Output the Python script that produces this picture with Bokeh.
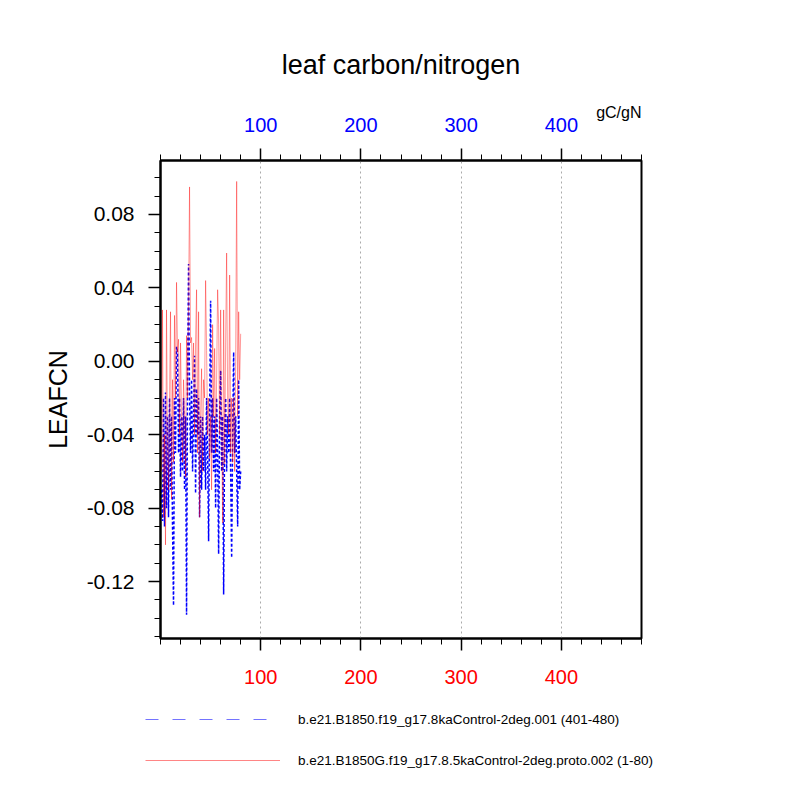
from bokeh.plotting import figure
from bokeh.layouts import column, row
from bokeh.models import (Range1d, FixedTicker, LinearAxis, Title, Legend, LegendItem,
                          PrintfTickFormatter, ColumnDataSource)
from bokeh.embed import file_html
from bokeh.resources import INLINE

title_text = "leaf carbon/nitrogen"
units_text = "gC/gN"
y_label = "LEAFCN"
label_blue = "b.e21.B1850.f19_g17.8kaControl-2deg.001 (401-480)"
label_red = "b.e21.B1850G.f19_g17.8.5kaControl-2deg.proto.002 (1-80)"

x_major = [100, 200, 300, 400]
x_minor = list(range(0, 481, 20))
y_major = [-0.12, -0.08, -0.04, 0.0, 0.04, 0.08]
y_minor = [round(-0.15 + 0.01 * i, 2) for i in range(27)]

years = list(range(1, 81))

red_vals = [
    -0.060, 0.028, -0.085, -0.040, -0.100, 0.028, -0.045, -0.070, -0.020, 0.027,
    -0.075, -0.010, -0.055, 0.025, -0.020, 0.043, 0.005, 0.012, -0.040, 0.010,
    -0.030, -0.055, -0.010, -0.030, -0.063, 0.014, -0.020, 0.030, 0.095, 0.010,
    0.013, -0.010, 0.010, -0.040, 0.010, 0.039, -0.050, 0.027, -0.085, -0.030,
    -0.004, -0.060, -0.010, -0.020, 0.044, 0.006, -0.040, -0.020, -0.053, -0.030,
    -0.070, 0.020, -0.030, 0.007, -0.050, -0.010, 0.039, 0.020, -0.040, 0.028,
    -0.030, -0.088, 0.028, -0.056, 0.010, 0.059, -0.020, -0.040, 0.047, -0.050,
    -0.020, -0.055, -0.020, -0.060, 0.000, 0.098, -0.030, 0.027, -0.010, 0.015,
]

blue_vals = [
    -0.070, -0.087, -0.020, -0.090, -0.017, -0.080, -0.030, -0.085, -0.020, -0.070,
    -0.030, -0.090, -0.133, -0.020, -0.050, 0.008, 0.005, -0.050, -0.020, -0.063,
    -0.030, -0.060, -0.020, -0.070, -0.030, -0.138, -0.010, 0.053, -0.020, -0.050,
    -0.010, -0.060, -0.030, 0.003, -0.072, -0.015, -0.040, -0.020, -0.085, -0.030,
    -0.070, -0.030, -0.060, -0.040, -0.070, -0.020, -0.050, -0.098, -0.030, 0.033,
    -0.050, -0.020, -0.060, -0.030, -0.080, -0.020, -0.050, -0.105, -0.030, -0.005,
    -0.060, -0.030, -0.127, -0.040, -0.020, -0.060, -0.030, -0.050, -0.020, -0.060,
    -0.107, -0.040, 0.005, -0.050, -0.030, -0.060, -0.090, -0.010, -0.070, -0.060,
]

FONT = "Liberation Sans"
W = 671
LEG_H = 84

p = figure(frame_width=481, frame_height=478,
           x_range=Range1d(0, 480), y_range=Range1d(-0.151, 0.1094),
           output_backend="svg", toolbar_location=None, title=None,
           min_border_left=160, min_border_top=160, min_border_bottom=62,
           min_border_right=30, background_fill_color="white",
           border_fill_color="white")

p.outline_line_color = "black"
p.outline_line_width = 2

# data lines
p.line(years, blue_vals, line_color="#0000ff", line_width=1.5, line_dash="3 2")
p.line(years, red_vals, line_color="#ff0000", line_alpha=0.4, line_width=1)

# axes
def style_x(ax, color, standoff):
    ax.ticker = FixedTicker(ticks=x_major, minor_ticks=x_minor)
    ax.major_label_text_color = color
    ax.major_label_text_font = FONT
    ax.major_label_text_font_size = "20px"
    ax.major_label_standoff = standoff
    ax.major_tick_out = 12
    ax.major_tick_in = 0
    ax.minor_tick_out = 6
    ax.minor_tick_in = 0
    ax.axis_line_width = 2
    ax.axis_line_color = "black"
    ax.major_tick_line_color = "black"
    ax.minor_tick_line_color = "black"
    ax.major_tick_line_width = 1.5
    ax.minor_tick_line_width = 1

xb = p.xaxis[0]
style_x(xb, "#ff0000", 19)

xt = LinearAxis()
style_x(xt, "#0000ff", 17)
p.add_layout(xt, "above")

ya = p.yaxis[0]
ya.ticker = FixedTicker(ticks=y_major, minor_ticks=y_minor)
ya.formatter = PrintfTickFormatter(format="%.2f")
ya.major_label_text_font = FONT
ya.major_label_text_font_size = "21px"
ya.major_label_text_color = "black"
ya.major_label_standoff = 14
ya.major_tick_out = 12
ya.major_tick_in = 0
ya.minor_tick_out = 6
ya.minor_tick_in = 0
ya.axis_line_width = 2
ya.axis_line_color = "black"
ya.major_tick_line_color = "black"
ya.minor_tick_line_color = "black"
ya.major_tick_line_width = 1.5
ya.axis_label = y_label
ya.axis_label_text_font = FONT
ya.axis_label_text_font_size = "25px"
ya.axis_label_text_font_style = "normal"
ya.axis_label_text_color = "black"
ya.axis_label_standoff = 12

# grid
p.xgrid.ticker = FixedTicker(ticks=x_major)
p.xgrid.grid_line_color = "#aaaaaa"
p.xgrid.grid_line_dash = "2 3"
p.xgrid.grid_line_width = 1
p.ygrid.visible = False

# titles
t_units = Title(text=units_text, align="right", text_font=FONT, text_color="black",
                text_font_size="16px", text_font_style="normal", standoff=-12)
p.add_layout(t_units, "above")
t_main = Title(text=title_text, align="center", text_font=FONT, text_color="black",
               text_font_size="27px", text_font_style="normal", standoff=56)
p.add_layout(t_main, "above")

# legend figure (below the chart); its ranges are in pixels
p2 = figure(width=W, height=LEG_H, x_range=Range1d(0, W), y_range=Range1d(0, LEG_H),
            output_backend="svg", toolbar_location=None, title=None,
            min_border=0, background_fill_color="white", border_fill_color="white")
p2.axis.visible = False
p2.grid.visible = False
p2.outline_line_color = None

# dashed key for the blue series, drawn as a line in the legend strip
p2.line([145, 275], [65, 65], line_color="#0000ff", line_alpha=0.55,
        line_width=1, line_dash="13 14")

nan = float("nan")
src_proxy = ColumnDataSource(data=dict(x=[nan], y=[nan]))
lb = p2.line("x", "y", source=src_proxy, line_color="#0000ff", line_alpha=0.0,
             line_width=1)
lr = p2.line("x", "y", source=src_proxy, line_color="#ff8585", line_alpha=1.0,
             line_width=1)
legend = Legend(items=[LegendItem(label=label_blue, renderers=[lb]),
                       LegendItem(label=label_red, renderers=[lr])],
                location=(145, 14), orientation="vertical",
                glyph_width=135, glyph_height=20, label_height=20,
                label_standoff=18, spacing=21, padding=0, margin=0,
                border_line_alpha=0, background_fill_alpha=0,
                label_text_color="black",
                label_text_font=FONT, label_text_font_size="13.5px")
p2.add_layout(legend, "center")

layout = column(p, row(p2), spacing=0)

open("out.html", "w").write(file_html(layout, INLINE))
